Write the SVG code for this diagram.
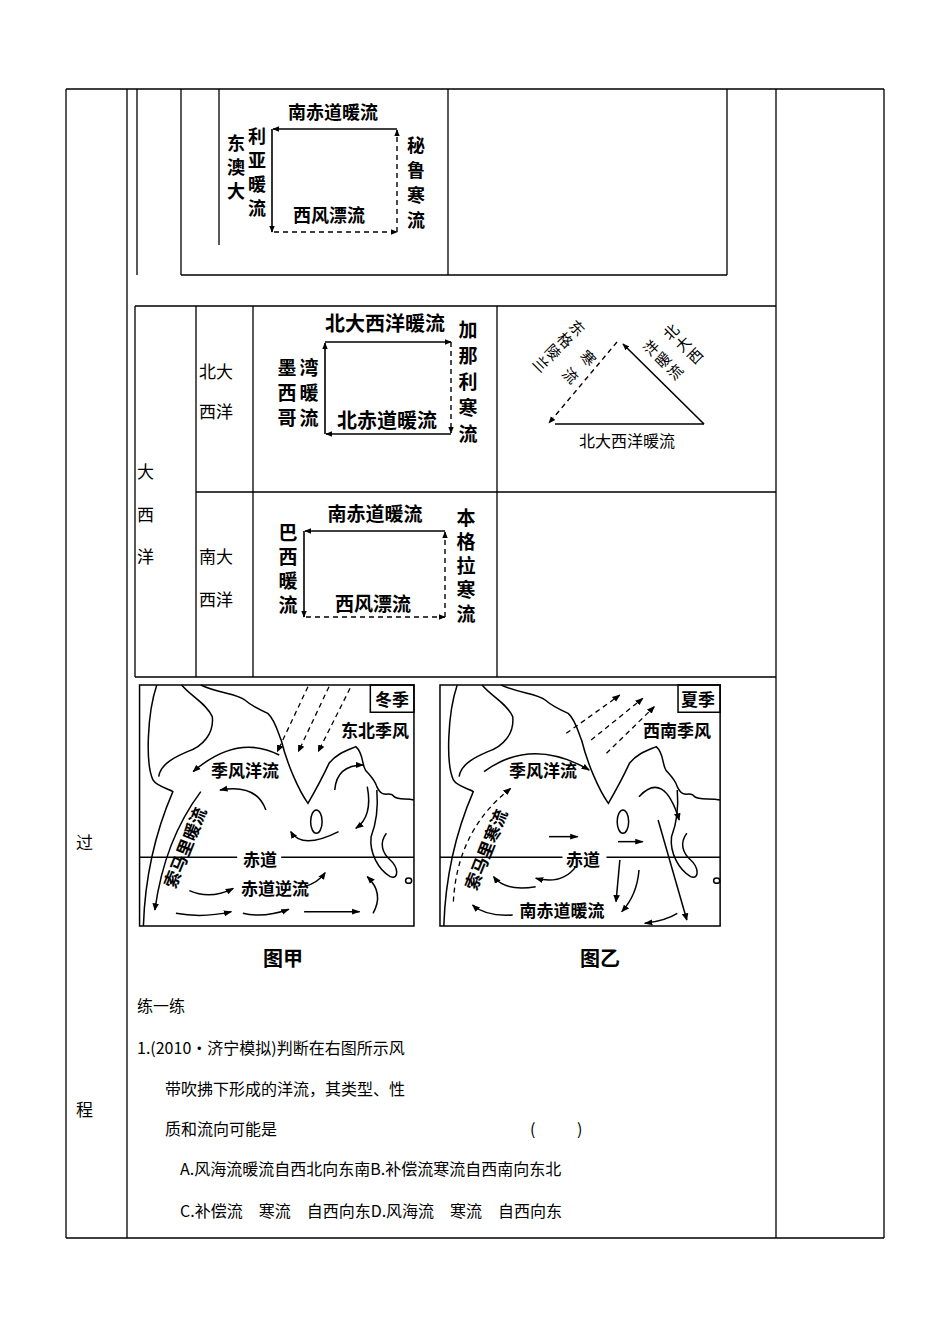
<svg xmlns="http://www.w3.org/2000/svg" width="950" height="1342" viewBox="0 0 950 1342">
<defs>
<marker id="ah" viewBox="0 0 10 10" refX="9" refY="5" markerWidth="7" markerHeight="7" markerUnits="userSpaceOnUse" orient="auto"><path d="M0,1 L10,5 L0,9 Z" fill="#000"/></marker>
<marker id="ahm" viewBox="0 0 10 10" refX="9" refY="5" markerWidth="22" markerHeight="22" markerUnits="userSpaceOnUse" orient="auto"><path d="M0,1 L10,5 L0,9 Z" fill="#000"/></marker>
<style>
.t{font-family:"Noto Sans CJK SC",sans-serif;fill:#000}
.b{font-weight:bold}
.ln{stroke:#000;stroke-width:1.3;fill:none}
.a{stroke:#000;stroke-width:1.6;fill:none;marker-end:url(#ah)}
.d{stroke:#000;stroke-width:1.4;fill:none;stroke-dasharray:5,4;marker-end:url(#ah)}
.m{stroke:#000;stroke-width:1.5;fill:none;vector-effect:non-scaling-stroke}
.ma{stroke:#000;stroke-width:1.5;fill:none;vector-effect:non-scaling-stroke;marker-end:url(#ahm)}
.md{stroke:#000;stroke-width:1.3;fill:none;vector-effect:non-scaling-stroke;stroke-dasharray:5,4;marker-end:url(#ahm)}
</style>
</defs>
<rect width="950" height="1342" fill="#fff"/>
<g id="table" class="ln">
<path d="M66,89 H884 M66,1238 H884 M66,89 V1238 M127,89 V1238 M776,89 V1238 M884,89 V1238"/>
<path d="M137,89 V275 M181,89 V275 M219,89 V245 M448,89 V275 M727,89 V275 M181,275 H727"/>
<path d="M135,306 H776 M135,306 V677 M196,306 V677 M253,306 V677 M497,306 V677 M196,492 H776 M135,677 H776"/>
</g>
<g id="labels" class="t" font-size="17">
<text x="199" y="378">北大</text><text x="199" y="418">西洋</text>
<text x="199" y="563">南大</text><text x="199" y="606">西洋</text>
<text x="137" y="478">大</text><text x="137" y="521">西</text><text x="137" y="563">洋</text>
<text x="76" y="849">过</text><text x="76" y="1116">程</text>
</g>
<g id="pacific">
<g class="t b" font-size="18" text-anchor="middle">
<text x="333" y="119">南赤道暖流</text>
<text x="329" y="222">西风漂流</text>
<text><tspan x="257" y="143">利</tspan><tspan x="257" y="167">亚</tspan><tspan x="257" y="191">暖</tspan><tspan x="257" y="215">流</tspan></text>
<text><tspan x="236" y="150">东</tspan><tspan x="236" y="174">澳</tspan><tspan x="236" y="198">大</tspan></text>
<text><tspan x="416" y="152">秘</tspan><tspan x="416" y="177">鲁</tspan><tspan x="416" y="202">寒</tspan><tspan x="416" y="227">流</tspan></text>
</g>
<path class="a" d="M397,129 H273"/><path class="a" d="M272,129 V232"/>
<path class="d" d="M274,232 H397"/><path class="d" d="M397,232 V130"/>
</g>
<g id="north-atlantic">
<g class="t b" font-size="20" text-anchor="middle">
<text x="385" y="331">北大西洋暖流</text>
<text x="387" y="428">北赤道暖流</text>
</g>
<g class="t b" font-size="19" text-anchor="middle">
<text><tspan x="287" y="375">墨</tspan><tspan x="287" y="400">西</tspan><tspan x="287" y="425">哥</tspan></text>
<text><tspan x="309" y="375">湾</tspan><tspan x="309" y="400">暖</tspan><tspan x="309" y="425">流</tspan></text>
<text><tspan x="468" y="337">加</tspan><tspan x="468" y="363">那</tspan><tspan x="468" y="389">利</tspan><tspan x="468" y="415">寒</tspan><tspan x="468" y="441">流</tspan></text>
</g>
<path class="a" d="M325,342 H451"/><path class="a" d="M325,434 V343"/>
<path class="a" d="M451,434 H326"/><path class="d" d="M451,342 V433"/>
</g>
<g id="triangle">
<path class="ln" d="M555,424 H704"/>
<path class="a" d="M704,424 L623,344"/>
<path class="d" d="M617,342 L549,423"/>
<text class="t" font-size="16" x="627" y="447" text-anchor="middle">北大西洋暖流</text>
<g class="t" font-size="15" text-anchor="middle">
<g transform="translate(573,332) rotate(45)"><text><tspan x="0" y="0">东</tspan><tspan x="0" y="17">格</tspan><tspan x="0" y="34">陵</tspan><tspan x="0" y="51">兰</tspan></text></g>
<g transform="translate(584,362) rotate(45)"><text><tspan x="0" y="0">寒</tspan><tspan x="0" y="25">流</tspan></text></g>
<g transform="translate(675,336) rotate(-45)"><text><tspan x="0" y="0">北</tspan><tspan x="0" y="17">大</tspan><tspan x="0" y="34">西</tspan></text></g>
<g transform="translate(655,352) rotate(-45)"><text><tspan x="0" y="0">洋</tspan><tspan x="0" y="17">暖</tspan><tspan x="0" y="34">流</tspan></text></g>
</g>
</g>
<g id="south-atlantic">
<g class="t b" font-size="19" text-anchor="middle">
<text x="375" y="521">南赤道暖流</text>
<text x="373" y="611">西风漂流</text>
<text><tspan x="288" y="540">巴</tspan><tspan x="288" y="564">西</tspan><tspan x="288" y="588">暖</tspan><tspan x="288" y="612">流</tspan></text>
<text><tspan x="466" y="525">本</tspan><tspan x="466" y="549">格</tspan><tspan x="466" y="573">拉</tspan><tspan x="466" y="597">寒</tspan><tspan x="466" y="621">流</tspan></text>
</g>
<path class="a" d="M445,531 H305"/><path class="a" d="M304,531 V617"/>
<path class="d" d="M306,617 H445"/><path class="d" d="M445,617 V532"/>
</g>
<g id="map-left" transform="translate(130,680) scale(0.3827,0.3333)">
<rect class="m" x="25" y="15" width="717" height="723"/>
<rect class="m" x="628" y="15" width="114" height="82"/>
<path class="m" d="M70,15 C45,100 40,250 60,300 C70,320 100,325 112,335 C80,420 40,560 35,738"/>
<path class="m" d="M135,15 C160,50 200,70 215,110 C220,160 190,200 150,215 C120,230 80,250 75,290"/>
<path class="m" d="M185,15 C230,40 280,40 300,60 C320,80 340,90 360,100 C380,120 390,170 395,180 C410,250 440,330 465,370 C480,340 500,300 520,250 C540,220 570,210 590,200 C610,220 605,250 615,270 C630,290 640,300 645,320 C660,360 680,330 690,350 C700,360 720,355 742,360"/>
<path class="m" d="M645,330 C650,400 640,440 630,470 C625,520 650,570 680,590 C705,600 700,560 680,540 C660,520 650,490 670,460"/>
<ellipse class="m" cx="487" cy="425" rx="15" ry="35"/>
<circle class="m" cx="728" cy="602" r="8"/>
<path class="m" d="M25,532 H280 M395,532 H742"/>
<path class="md" d="M465,20 L385,215"/><path class="md" d="M520,20 L440,215"/><path class="md" d="M575,25 L492,215"/>
<path class="ma" d="M390,225 Q280,160 165,275"/>
<path class="ma" d="M355,390 Q330,310 235,330"/>
<path class="ma" d="M545,455 Q450,510 420,455"/>
<path class="ma" d="M535,330 Q540,255 610,255"/>
<path class="ma" d="M620,320 Q635,410 590,445"/>
<path class="ma" d="M185,335 Q90,480 65,690"/>
<path class="ma" d="M155,632 Q210,660 270,625"/>
<path class="ma" d="M455,620 Q490,610 510,578"/>
<path class="ma" d="M120,700 Q190,715 265,695"/>
<path class="ma" d="M295,700 Q350,715 415,688"/>
<path class="ma" d="M455,695 L600,695"/>
<path class="ma" d="M635,700 Q665,640 620,590"/>
</g>
<g id="map-right" transform="translate(130,680) scale(0.3827,0.3333)">
<rect class="m" x="810" y="15" width="732" height="723"/>
<rect class="m" x="1432" y="15" width="110" height="82"/>
<path class="m" d="M855,15 C830,100 825,250 845,300 C855,320 885,325 897,335 C865,420 825,560 820,738"/>
<path class="m" d="M920,15 C945,50 985,70 1000,110 C1005,160 975,200 935,215 C905,230 865,250 860,290"/>
<path class="m" d="M970,15 C1015,40 1065,40 1085,60 C1105,80 1125,90 1145,100 C1165,120 1175,170 1180,180 C1195,250 1225,330 1250,370 C1265,340 1285,300 1305,250 C1325,220 1355,210 1375,200 C1395,220 1390,250 1400,270 C1415,290 1425,300 1430,320 C1445,360 1465,330 1475,350 C1485,360 1510,355 1542,360"/>
<path class="m" d="M1430,330 C1435,400 1425,440 1415,470 C1410,520 1435,570 1465,590 C1490,600 1485,560 1465,540 C1445,520 1435,490 1455,460"/>
<ellipse class="m" cx="1288" cy="425" rx="15" ry="35"/>
<circle class="m" cx="1533" cy="602" r="8"/>
<path class="m" d="M810,532 H1130 M1245,532 H1542"/>
<path class="md" d="M1140,160 L1280,45"/><path class="md" d="M1205,180 L1340,55"/><path class="md" d="M1245,220 L1370,80"/>
<path class="ma" d="M925,275 Q1050,170 1200,270"/>
<path class="md" d="M845,665 Q855,450 995,325"/>
<path class="ma" d="M1095,470 L1170,470"/>
<path class="ma" d="M1275,485 L1340,485"/>
<path class="ma" d="M1165,560 Q1130,615 1060,595"/>
<path class="ma" d="M1060,620 Q980,635 950,590"/>
<path class="ma" d="M1000,705 Q930,710 895,675"/>
<path class="ma" d="M1280,540 L1270,665"/>
<path class="ma" d="M1330,570 Q1325,645 1285,695"/>
<path class="ma" d="M1330,350 Q1395,270 1435,420"/>
<path class="ma" d="M1380,420 L1455,720"/>
<path class="ma" d="M1430,700 Q1400,722 1345,730"/>
</g>
<g id="map-labels" class="t b" font-size="17" text-anchor="middle">
<text x="392" y="706">冬季</text>
<text x="375" y="737">东北季风</text>
<text x="245" y="777">季风洋流</text>
<text x="260" y="866">赤道</text>
<text x="275" y="895">赤道逆流</text>
<text transform="translate(191,850) rotate(-68)">索马里暖流</text>
<text x="698" y="706">夏季</text>
<text x="677" y="737">西南季风</text>
<text x="543" y="777">季风洋流</text>
<text x="583" y="866">赤道</text>
<text x="562" y="917">南赤道暖流</text>
<text transform="translate(492,852) rotate(-68)">索马里寒流</text>
<text x="283" y="966" font-size="20">图甲</text>
<text x="600" y="966" font-size="20">图乙</text>
</g>
<g id="question" class="t" font-size="16">
<text x="137" y="1012">练一练</text>
<text x="137" y="1054">1.(2010·济宁模拟)判断在右图所示风</text>
<text x="165" y="1095">带吹拂下形成的洋流，其类型、性</text>
<text x="165" y="1135">质和流向可能是</text>
<text x="530" y="1135">(</text><text x="577" y="1135">)</text>
<text x="180" y="1175">A.风海流暖流自西北向东南B.补偿流寒流自西南向东北</text>
<text x="180" y="1217">C.补偿流　寒流　自西向东D.风海流　寒流　自西向东</text>
</g>
</svg>
